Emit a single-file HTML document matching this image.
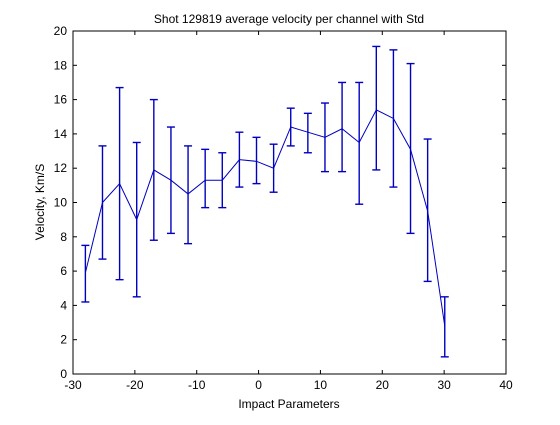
<!DOCTYPE html>
<html><head><meta charset="utf-8"><style>
body{margin:0;background:#fff;}
svg text{font-family:"Liberation Sans",sans-serif;font-size:12px;fill:#000;}
</style></head><body>
<svg id="chart" width="560" height="420" xmlns="http://www.w3.org/2000/svg">
<rect x="0" y="0" width="560" height="420" fill="#fff"/>
<rect x="73" y="31" width="433" height="343" fill="#fff" stroke="#000" stroke-width="1"/>
<text x="289" y="23" text-anchor="middle">Shot 129819 average velocity per channel with Std</text>
<text x="289" y="408" text-anchor="middle">Impact Parameters</text>
<text transform="translate(44,202) rotate(-90)" text-anchor="middle">Velocity, Km/S</text>
<g id="axes"></g>
<g id="marks"></g>
</svg>
<script>
const xTicks=[-30,-20,-10,0,10,20,30,40];
const yTicks=[0,2,4,6,8,10,12,14,16,18,20];
const means=[5.9,10.0,11.1,9.0,11.9,11.3,10.5,11.3,11.3,12.5,12.4,12.0,14.4,14.1,13.8,14.3,13.5,15.4,14.9,13.1,9.5,2.8];
const upper=[7.5,13.3,16.7,13.5,16.0,14.4,13.3,13.1,12.9,14.1,13.8,13.4,15.5,15.2,15.8,17.0,17.0,19.1,18.9,18.1,13.7,4.5];
const lower=[4.2,6.7,5.5,4.5,7.8,8.2,7.6,9.7,9.7,10.9,11.1,10.6,13.3,12.9,11.8,11.8,9.9,11.9,10.9,8.2,5.4,1.0];
const xStart=-28, xEnd=30.1;
const NS="http://www.w3.org/2000/svg";
const X=v=>73+(v+30)/70*433;
const Y=v=>374-v/20*343;
function mk(t,a,p){const e=document.createElementNS(NS,t);for(const k in a)e.setAttribute(k,a[k]);p.appendChild(e);return e;}
const axes=document.getElementById('axes'), marks=document.getElementById('marks');
xTicks.forEach(t=>{
 const x=X(t);
 const l=mk('line',{x1:x,x2:x,y1:374,y2:370,stroke:'#000'},axes);
 
 
 const l2=mk('line',{x1:x,x2:x,y1:31,y2:35,stroke:'#000'},axes);
 
 
 const tx=mk('text',{x:x,y:389,'text-anchor':'middle'},axes);tx.textContent=t;
 
 
});
yTicks.forEach(t=>{
 const y=Y(t);
 const l=mk('line',{x1:73,x2:77,y1:y,y2:y,stroke:'#000'},axes);
 
 
 const l2=mk('line',{x1:502,x2:506,y1:y,y2:y,stroke:'#000'},axes);
 
 
 const tx=mk('text',{x:67,y:y+4,'text-anchor':'end'},axes);tx.textContent=t;
 
 
});
const n=means.length;
const xs=means.map((_,i)=>xStart+i*(xEnd-xStart)/(n-1));
const pl=mk('polyline',{points:means.map((m,i)=>X(xs[i])+','+Y(m)).join(' '),fill:'none',stroke:'#0000c0','stroke-width':1},marks);


means.forEach((m,i)=>{
 const x=X(xs[i]);
 const g=mk('g',{stroke:'#0000c0','stroke-width':1.4},marks);
 
 
 mk('line',{x1:x,x2:x,y1:Y(upper[i]),y2:Y(lower[i])},g);
 mk('line',{x1:x-4,x2:x+4,y1:Y(upper[i]),y2:Y(upper[i])},g);
 mk('line',{x1:x-4,x2:x+4,y1:Y(lower[i]),y2:Y(lower[i])},g);
});
</script>
</body></html>
